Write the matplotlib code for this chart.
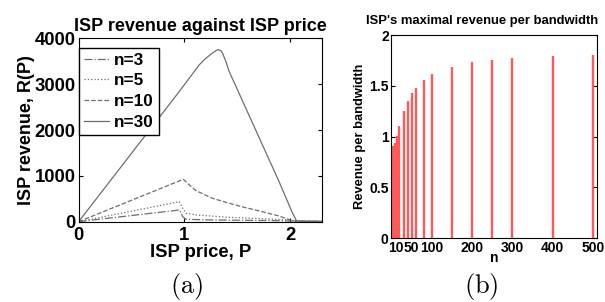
import matplotlib
matplotlib.use("Agg")
from matplotlib import pyplot as plt
import numpy as np

# ---- data ----
# (a) ISP revenue vs ISP price
p_n3 = [0, 0.953, 0.984, 1.016, 1.2, 1.5, 1.8, 2.0, 2.3]
r_n3 = [0, 255, 109, 52, 40, 32, 25, 15, 5]

p_n5 = [0, 0.953, 0.984, 1.016, 1.11, 1.42, 1.74, 2.0, 2.05, 2.3]
r_n5 = [0, 436, 292, 183, 146, 96, 65, 37, 10, 5]

p_n10 = [0, 0.99, 1.047, 1.11, 1.266, 1.423, 1.58, 1.737, 1.894, 2.0, 2.05, 2.3]
r_n10 = [0, 925, 800, 676, 510, 401, 305, 218, 124, 37, 10, 5]

p_n30 = [0, 0.953, 1.141, 1.2, 1.266, 1.30, 1.323, 1.345, 1.36, 1.392, 1.423,
         1.58, 1.737, 1.894, 2.02, 2.06, 2.1, 2.3]
r_n30 = [0, 2844, 3424, 3560, 3680, 3735, 3752, 3730, 3680, 3498, 3280,
         2480, 1680, 881, 200, 20, 10, 8]

# (b) maximal revenue per bandwidth
n_vals = [3, 8, 14, 20, 30, 40, 50, 60, 80, 100, 150, 200, 250, 300, 400, 500]
rev_bw = [0.91, 0.94, 1.01, 1.10, 1.25, 1.355, 1.43, 1.48, 1.56, 1.62,
          1.685, 1.73, 1.755, 1.77, 1.795, 1.805]

n_ticks = [10, 50, 100, 200, 300, 400, 500]

plt.rcParams['font.family'] = ['Liberation Sans', 'DejaVu Sans']
plt.rcParams['font.weight'] = 'bold'
plt.rcParams['mathtext.fontset'] = 'cm'

fig = plt.figure(figsize=(6.05, 3.02), dpi=100)

# ---------- left panel ----------
ax1 = fig.add_axes([0.130, 0.266, 0.402, 0.607])
grey = '#6e6e6e'
ax1.plot(p_n3, r_n3, linestyle='-.', color=grey, lw=0.9, label='n=3')
ax1.plot(p_n5, r_n5, linestyle=':', color=grey, lw=0.9, label='n=5')
ax1.plot(p_n10, r_n10, linestyle='--', color=grey, lw=0.9, label='n=10')
ax1.plot(p_n30, r_n30, linestyle='-', color=grey, lw=0.9, label='n=30')
ax1.set_xlim(0, 2.3)
ax1.set_ylim(0, 4000)
ax1.set_xticks([0, 1, 2])
ax1.set_yticks([0, 1000, 2000, 3000, 4000])
ax1.tick_params(direction='in', top=True, right=True, length=3,
                labelsize=13.3)
ax1.tick_params(axis='x', pad=3.5)
ax1.tick_params(axis='y', pad=2)
for lab in ax1.get_xticklabels() + ax1.get_yticklabels():
    lab.set_fontweight('bold')
ax1.set_xlabel('ISP price, P', fontsize=13.3, fontweight='bold', labelpad=0)
ax1.set_ylabel('ISP revenue, R(P)', fontsize=13, fontweight='bold', labelpad=0)
ax1.set_title('ISP revenue against ISP price', fontsize=13, fontweight='bold', pad=5)
leg = ax1.legend(loc='upper left', bbox_to_anchor=(0, 0.95), fancybox=False,
                 framealpha=1, edgecolor='black', fontsize=12.3,
                 handlelength=1.5, handletextpad=0.25, borderpad=0.3,
                 labelspacing=0.33, borderaxespad=0)
leg.get_frame().set_linewidth(1.0)
for t in leg.get_texts():
    t.set_fontweight('bold')

# ---------- right panel ----------
ax2 = fig.add_axes([0.647, 0.211, 0.3405, 0.673])
ax2.vlines(n_vals, 0, rev_bw, colors='#ff5a5a', linewidth=1.7)
ax2.set_xlim(0, 511)
ax2.set_ylim(0, 2)
ax2.set_xticks(n_ticks)
ax2.set_yticks([0, 0.5, 1, 1.5, 2])
ax2.set_yticklabels(['0', '0.5', '1', '1.5', '2'])
ax2.tick_params(direction='in', right=True, length=3, labelsize=10, pad=2)
for lab in ax2.get_xticklabels() + ax2.get_yticklabels():
    lab.set_fontweight('bold')
ax2.set_xlabel('n', fontsize=10, fontweight='bold', labelpad=-3)
ax2.set_ylabel('Revenue per bandwidth', fontsize=9.3, fontweight='bold', labelpad=2)
ax2.text(0.44, 1.04, "ISP's maximal revenue per bandwidth", transform=ax2.transAxes,
         ha='center', va='bottom', fontsize=9.4, fontweight='bold')

# captions
fig.text(0.308, 0.05, r'$\mathrm{(a)}$', ha='center', va='center', fontsize=19)
fig.text(0.795, 0.05, r'$\mathrm{(b)}$', ha='center', va='center', fontsize=19)

plt.savefig("out.png", dpi=100)
